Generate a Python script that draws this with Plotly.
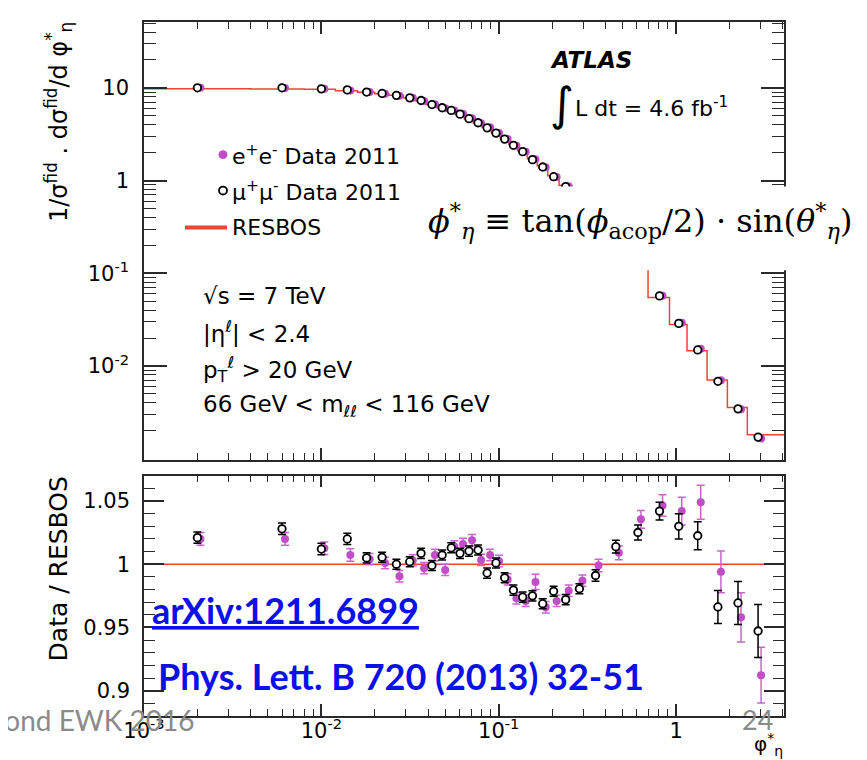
import math
import plotly.graph_objects as go

# ---------------- data ----------------
phi_edges = [0, 0.004, 0.008, 0.012, 0.016, 0.020, 0.024, 0.029, 0.034, 0.039, 0.045,
             0.051, 0.057, 0.064, 0.072, 0.081, 0.091, 0.102, 0.114, 0.128, 0.145,
             0.165, 0.189, 0.219, 0.258, 0.312, 0.391, 0.524, 0.695, 0.918, 1.153,
             1.496, 1.947, 2.522, 4.1]
phi_centers = [0.002, 0.006, 0.010, 0.014, 0.018, 0.022, 0.0265, 0.0315, 0.0365, 0.042,
               0.048, 0.054, 0.0605, 0.068, 0.0765, 0.086, 0.0965, 0.108, 0.121, 0.1365,
               0.155, 0.177, 0.204, 0.2385, 0.285, 0.3515, 0.4575, 0.6095, 0.8065, 1.0355,
               1.3245, 1.7215, 2.2345, 2.8995]

mu_xsec = [10.0, 10.0, 9.75, 9.5, 9.0, 8.7, 8.3, 7.8, 7.3, 6.6, 6.1, 5.7, 5.2, 4.65, 4.2,
           3.7, 3.25, 2.8, 2.4, 2.05, 1.68, 1.4, 1.1, 0.86, 0.62, 0.42, 0.24, 0.125, 0.057,
           0.0288, 0.0149, 0.00684, 0.00345, 0.00171]
e_xsec = [10.0, 9.93, 9.76, 9.38, 9.0, 8.66, 8.22, 7.8, 7.22, 6.66, 6.03, 5.71, 5.24, 4.69,
          4.16, 3.76, 3.26, 2.8, 2.38, 2.04, 1.70, 1.395, 1.09, 0.866, 0.624, 0.423, 0.24,
          0.126, 0.0573, 0.0292, 0.0153, 0.00703, 0.00341, 0.00165]
resbos = [9.79, 9.73, 9.63, 9.31, 8.96, 8.65, 8.30, 7.78, 7.24, 6.61, 6.06, 5.63, 5.16, 4.60,
          4.15, 3.73, 3.25, 2.83, 2.45, 2.10, 1.72, 1.445, 1.124, 0.885, 0.632, 0.424, 0.237,
          0.122, 0.0547, 0.0280, 0.01457, 0.00708, 0.00356, 0.00181]

mu_ratio = [1.021, 1.028, 1.012, 1.020, 1.005, 1.0055, 1.000, 1.002, 1.0086, 0.999, 1.0073,
            1.013, 1.0086, 1.0104, 1.0112, 0.993, 1.001, 0.9893, 0.9795, 0.974, 0.975, 0.9688,
            0.9786, 0.972, 0.9806, 0.9911, 1.0139, 1.0251, 1.042, 1.030, 1.0225, 0.9662,
            0.9694, 0.9472]
mu_err = [0.0045, 0.0045, 0.0045, 0.0045, 0.004, 0.004, 0.004, 0.004, 0.004, 0.004, 0.004,
          0.004, 0.004, 0.004, 0.004, 0.004, 0.004, 0.004, 0.004, 0.004, 0.004, 0.004, 0.004,
          0.004, 0.004, 0.0045, 0.005, 0.006, 0.007, 0.010, 0.011, 0.013, 0.017, 0.021]
e_ratio = [1.020, 1.020, 1.0126, 1.0073, 1.004, 1.001, 0.9905, 1.003, 0.9969, 1.0073, 0.9955,
           1.014, 1.016, 1.019, 1.0034, 1.0073, 1.0026, 0.988, 0.973, 0.971, 0.986, 0.966,
           0.971, 0.979, 0.987, 0.999, 1.009, 1.0355, 1.0465, 1.042, 1.049, 0.994, 0.958,
           0.9123]
e_err = [0.005, 0.005, 0.005, 0.005, 0.0045, 0.0045, 0.0045, 0.0045, 0.0045, 0.0045, 0.0045,
         0.0045, 0.0045, 0.0045, 0.0045, 0.0045, 0.0045, 0.0045, 0.0045, 0.0045, 0.006,
         0.0045, 0.0045, 0.0045, 0.0045, 0.005, 0.0055, 0.007, 0.0085, 0.011, 0.0135, 0.0165,
         0.0195, 0.022]

x_tick_vals = [0.001, 0.01, 0.1, 1]
x_tick_text = ["10<sup>-3</sup>", "10<sup>-2</sup>", "10<sup>-1</sup>", "1"]
y_tick_vals = [0.01, 0.1, 1, 10]
y_tick_text = ["10<sup>-2</sup>", "10<sup>-1</sup>", "1", "10"]
r_tick_vals = [0.9, 0.95, 1, 1.05]
r_tick_text = ["0.9", "0.95", "1", "1.05"]

# ---------------- style ----------------
W, H = 867, 760
ML, MR, MT, MB = 136, 91, 12, 52
PW, PH = W - ML - MR, H - MT - MB
RED = "#ee4433"
MAG = "#c04ec6"
MAG_ERR = "#c866cc"
BLUE = "#0a10e8"
GRAY = "#8a8a8a"
AXC = "#2a2a2a"
FONT = "DejaVu Sans"
E_SHIFT = 1.04          # visual offset of the electron points
X_MIN, X_MAX = 1e-3, 4.06
LPAD = 10               # annotation left-anchor compensation (px)


def px(x):
    return (x - ML) / PW


def py(y):
    return (H - MB - y) / PH


x_min_log = math.log10(X_MIN)
x_max_log = math.log10(X_MAX)
minor_log_vals = [m * 10 ** k for k in range(-3, 2) for m in range(2, 10)]

fig = go.Figure()

# RESBOS histogram (step line)
step_x = [max(e, X_MIN) for e in phi_edges]
step_y = resbos + [resbos[-1]]
fig.add_trace(go.Scatter(x=step_x, y=step_y, mode="lines", line_shape="hv",
                         line=dict(color=RED, width=1.5), name="RESBOS",
                         xaxis="x", yaxis="y", showlegend=False))
fig.add_trace(go.Scatter(x=[c * E_SHIFT for c in phi_centers], y=e_xsec, mode="markers",
                         marker=dict(color=MAG, size=8, line=dict(width=0)),
                         name="e+e- Data 2011", xaxis="x", yaxis="y", showlegend=False))
fig.add_trace(go.Scatter(x=phi_centers, y=mu_xsec, mode="markers",
                         marker=dict(color="white", size=7.5, line=dict(color="black", width=1.8)),
                         name="mu+mu- Data 2011", xaxis="x", yaxis="y", showlegend=False))

# ratio panel
fig.add_trace(go.Scatter(x=[c * E_SHIFT for c in phi_centers], y=e_ratio, mode="markers",
                         marker=dict(color=MAG, size=8, line=dict(width=0)),
                         error_y=dict(type="data", array=e_err, color=MAG_ERR, thickness=1.5, width=4),
                         name="e+e- / RESBOS", xaxis="x2", yaxis="y2", showlegend=False))
fig.add_trace(go.Scatter(x=phi_centers, y=mu_ratio, mode="markers",
                         marker=dict(color="white", size=7.5, line=dict(color="black", width=1.8)),
                         error_y=dict(type="data", array=mu_err, color="black", thickness=1.5, width=4),
                         name="mu+mu- / RESBOS", xaxis="x2", yaxis="y2", showlegend=False))

axis_common = dict(showline=True, linecolor=AXC, linewidth=1.5, mirror="allticks",
                   ticks="inside", tickcolor=AXC, tickwidth=1.5, showgrid=False,
                   zeroline=False, tickfont=dict(family=FONT, size=21, color="black"))

x_minor = dict(ticks="inside", ticklen=7, tickcolor=AXC, tickwidth=1.2,
               tickmode="array", tickvals=minor_log_vals, showgrid=False)

fig.update_layout(
    width=W, height=H,
    margin=dict(l=ML, r=MR, t=MT, b=MB),
    paper_bgcolor="white", plot_bgcolor="white",
    showlegend=False,
    xaxis=dict(axis_common, type="log", range=[x_min_log, x_max_log], domain=[0, 1],
               anchor="y", tickmode="array", tickvals=x_tick_vals, ticklen=12,
               showticklabels=False, minor=x_minor),
    yaxis=dict(axis_common, type="log", range=[-3.011, 1.71], domain=[py(451), 1],
               anchor="x", tickmode="array", tickvals=y_tick_vals, ticktext=y_tick_text,
               ticklen=23, ticklabelstandoff=9,
               minor=dict(ticks="inside", ticklen=12, tickcolor=AXC, tickwidth=1.2,
                          tickmode="array", tickvals=minor_log_vals, showgrid=False)),
    xaxis2=dict(axis_common, type="log", range=[x_min_log, x_max_log], domain=[0, 1],
                anchor="y2", tickmode="array", tickvals=x_tick_vals, ticktext=x_tick_text,
                ticklen=12, ticklabelstandoff=-5, minor=x_minor),
    yaxis2=dict(axis_common, range=[0.88, 1.07], domain=[0, py(467)], anchor="x2",
                tickmode="array", tickvals=r_tick_vals, ticktext=r_tick_text,
                ticklen=20, ticklabelstandoff=8,
                minor=dict(ticks="inside", ticklen=11, tickcolor=AXC, tickwidth=1.2,
                           dtick=0.01, showgrid=False)),
)

shapes = [
    # ratio = 1 reference line
    dict(type="line", xref="x2 domain", yref="y2", x0=0, x1=1, y0=1, y1=1,
         line=dict(color=RED, width=1.5), layer="below"),
    # white box behind the definition formula
    dict(type="rect", xref="paper", yref="paper", x0=px(415), x1=px(W + 5),
         y0=py(261), y1=py(177), fillcolor="white", line=dict(width=0), layer="above"),
    # legend glyphs
    dict(type="circle", xref="paper", yref="paper", x0=px(210.5), x1=px(219.5),
         y0=py(149.5), y1=py(140.5), fillcolor=MAG, line=dict(width=0), layer="above"),
    dict(type="circle", xref="paper", yref="paper", x0=px(211), x1=px(219),
         y0=py(185), y1=py(177), fillcolor="white", line=dict(color="black", width=1.8),
         layer="above"),
    dict(type="line", xref="paper", yref="paper", x0=px(177), x1=px(219),
         y0=py(218), y1=py(218), line=dict(color=RED, width=4), layer="above"),
]
fig.update_layout(shapes=shapes)


def ann(text, x, y, size=21, xanchor="left", yanchor="middle", family=FONT,
        color="black", angle=0):
    if xanchor == "left":
        x = x - LPAD
    return dict(text=text, x=px(x), y=py(y), xref="paper", yref="paper",
                xanchor=xanchor, yanchor=yanchor, showarrow=False, textangle=angle,
                font=dict(family=family, size=size, color=color))


annotations = [
    ann("<b><i>ATLAS</i></b>", 550, 50, size=23),
    ann("∫", 554, 94, size=46, xanchor="center"),
    ann("L dt = 4.6 fb<sup>-1</sup>", 575, 97, size=22),
    ann("e<sup>+</sup>e<sup>-</sup> Data 2011", 232, 145, size=22),
    ann("μ<sup>+</sup>μ<sup>-</sup> Data 2011", 232, 181, size=22),
    ann("RESBOS", 232, 218, size=22),
    ann("√s = 7 TeV", 203, 287, size=23),
    ann("|η<sup>ℓ</sup>| &lt; 2.4", 203, 323, size=23),
    ann("p<sub>T</sub><sup>ℓ</sup> &gt; 20 GeV", 203, 360, size=23),
    ann("66 GeV &lt; m<sub>ℓℓ</sub> &lt; 116 GeV", 203, 397, size=23),
    ann("<i>ϕ</i><sup>*</sup><sub><i>η</i></sub> ≡ tan(<i>ϕ</i><sub>acop</sub>/2) · sin(<i>θ</i><sup>*</sup><sub><i>η</i></sub>)",
        428, 212, size=32, family="DejaVu Serif"),
    ann("1/σ<sup>fid</sup> . dσ<sup>fid</sup>/d φ<sup>*</sup><sub>η</sub>", 50, 10, size=24,
        xanchor="center", yanchor="top", angle=-90),
    ann("Data / RESBOS", 50, 561, size=25, xanchor="center", angle=-90),
    ann("φ<sup>*</sup><sub>η</sub>", 777, 737, size=20, xanchor="right"),
    ann("<b><u>arXiv:1211.6899</u></b>", 152, 602, size=36, family="Lato", color=BLUE),
    ann("<b>Phys. Lett. B 720 (2013) 32-51</b>", 158, 668, size=36, family="Lato", color=BLUE),
    ann("Moriond EWK 2016", 189, 712, size=28, xanchor="right", family="Lato", color=GRAY),
    ann("24", 767, 712, size=27, xanchor="right", family="Lato", color=GRAY),
]
fig.update_layout(annotations=annotations)

fig.write_html("out.html")
